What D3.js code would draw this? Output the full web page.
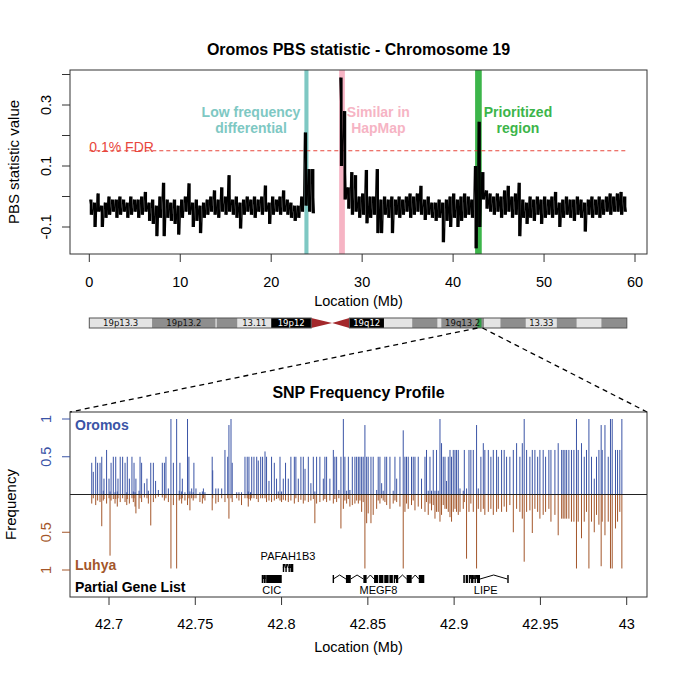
<!DOCTYPE html>
<html>
<head>
<meta charset="utf-8">
<script src="https://cdn.jsdelivr.net/npm/d3@7"></script>
<style>
  body { margin: 0; background: #fff; }
  svg { font-family: "Liberation Sans", Arial, Helvetica, sans-serif; }
</style>
</head>
<body>
<svg width="685" height="685"></svg>
<script>
// ---- Top panel: PBS statistic on chr19, point cloud summarised per 0.4 Mb bin (low / high)
var pbsPos = [
    0.2, 0.6, 1.0, 1.4, 1.8, 2.2, 2.6, 3.0, 3.4, 3.8,
    4.2, 4.6, 5.0, 5.4, 5.8, 6.2, 6.6, 7.0, 7.4, 7.8,
    8.2, 8.6, 9.0, 9.4, 9.8, 10.2, 10.6, 11.0, 11.4, 11.8,
    12.2, 12.6, 13.0, 13.4, 13.8, 14.2, 14.6, 15.0, 15.4, 15.8,
    16.2, 16.6, 17.0, 17.4, 17.8, 18.2, 18.6, 19.0, 19.4, 19.8,
    20.2, 20.6, 21.0, 21.4, 21.8, 22.2, 22.6, 23.0, 23.4, 23.8,
    24.2, 24.6,
    27.7, 28.1, 28.5, 28.9, 29.3, 29.7, 30.1, 30.5, 30.9, 31.3,
    31.7, 32.1, 32.5, 32.9, 33.3, 33.7, 34.1, 34.5, 34.9, 35.3,
    35.7, 36.1, 36.5, 36.9, 37.3, 37.7, 38.1, 38.5, 38.9, 39.3,
    39.7, 40.1, 40.5, 40.9, 41.3, 41.7, 42.1, 42.5, 42.9, 43.3,
    43.7, 44.1, 44.5, 44.9, 45.3, 45.7, 46.1, 46.5, 46.9, 47.3,
    47.7, 48.1, 48.5, 48.9, 49.3, 49.7, 50.1, 50.5, 50.9, 51.3,
    51.7, 52.1, 52.5, 52.9, 53.3, 53.7, 54.1, 54.5, 54.9, 55.3,
    55.7, 56.1, 56.5, 56.9, 57.3, 57.7, 58.1, 58.5, 58.9
];
var pbsLow = [
    -0.06, -0.10, -0.05, -0.10, -0.07, -0.06, -0.05, -0.07, -0.06, -0.05,
    -0.07, -0.06, -0.05, -0.07, -0.06, -0.05, -0.08, -0.09, -0.13, -0.07,
    -0.13, -0.07, -0.08, -0.09, -0.125, -0.07, -0.05, -0.06, -0.10, -0.08,
    -0.12, -0.07, -0.06, -0.05, -0.06, -0.07, -0.05, -0.06, -0.05, -0.06,
    -0.07, -0.105, -0.06, -0.05, -0.06, -0.07, -0.05, -0.06, -0.05, -0.09,
    -0.06, -0.05, -0.06, -0.05, -0.06, -0.07, -0.08, -0.07, -0.05, -0.03,
    -0.05, -0.055,
    0.10, -0.01, -0.04, -0.06, -0.05, -0.07, -0.06, -0.088, -0.07, -0.06,
    -0.12, -0.12, -0.06, -0.07, -0.12, -0.06, -0.07, -0.06, -0.05, -0.07,
    -0.06, -0.05, -0.06, -0.077, -0.06, -0.07, -0.08, -0.07, -0.15, -0.08,
    -0.10, -0.07, -0.10, -0.08, -0.07, -0.06, -0.07, -0.17, -0.10, -0.01,
    -0.04, -0.05, -0.06, -0.05, -0.07, -0.06, -0.05, -0.07, -0.06, -0.13,
    -0.07, -0.09, -0.07, -0.08, -0.06, -0.09, -0.07, -0.06, -0.07, -0.06,
    -0.10, -0.07, -0.06, -0.07, -0.08, -0.06, -0.07, -0.115, -0.06, -0.07,
    -0.06, -0.07, -0.06, -0.05, -0.06, -0.05, -0.05, -0.06, -0.05
];
var pbsHigh = [
    -0.01, -0.02, 0.01, -0.03, -0.02, 0.00, -0.01, -0.01, 0.00, -0.01,
    -0.02, 0.00, -0.01, -0.01, 0.00, 0.015, -0.02, -0.01, -0.03, 0.00,
    0.045, -0.01, -0.02, -0.01, -0.03, -0.01, 0.00, 0.043, -0.02, -0.01,
    -0.03, -0.02, -0.01, 0.00, 0.02, -0.01, 0.03, 0.00, 0.07, -0.01,
    0.00, -0.02, -0.01, 0.00, -0.01, 0.00, -0.01, 0.00, 0.036, -0.02,
    0.00, -0.01, 0.00, 0.02, -0.01, -0.02, -0.03, -0.03, 0.00, 0.21,
    0.09, 0.09,
    0.39, 0.28, 0.03, 0.08, 0.07, 0.00, 0.01, 0.087, 0.00, 0.00,
    0.09, -0.01, 0.00, -0.01, 0.00, -0.01, 0.00, -0.01, 0.00, 0.01,
    0.00, 0.01, 0.035, -0.01, 0.00, -0.02, -0.02, -0.01, -0.02, -0.01,
    0.00, 0.01, -0.01, 0.00, 0.01, 0.00, -0.01, 0.10, 0.245, 0.08,
    0.02, 0.01, 0.00, 0.01, 0.00, 0.02, 0.035, 0.00, 0.01, 0.045,
    -0.01, -0.02, 0.00, -0.01, 0.00, -0.01, 0.00, -0.01, 0.00, 0.015,
    -0.02, -0.01, 0.00, -0.01, -0.01, 0.00, -0.01, -0.02, -0.01, 0.00,
    -0.01, 0.00, -0.01, 0.00, 0.01, 0.00, 0.01, 0.015, 0.00
];
var pbsBin = 0.4;
var centromereGap = [24.8, 27.5];
var fdrCutoff = 0.15;

var regionLabel = [["Low frequency", "differential"], ["Similar in", "HapMap"], ["Prioritized", "region"]];
var regionStart = [23.65, 27.47, 42.42];
var regionEnd = [24.1, 28.1, 43.15];

var topXTicks = [0, 10, 20, 30, 40, 50, 60];
var topYTicks = [-0.1, 0, 0.1, 0.2, 0.3, 0.4];
var topYLabels = ["-0.1", "", "0.1", "", "0.3", ""];

// ---- Chromosome 19 ideogram (Mb)
var bandStart = [0, 6.9, 13.9, 14.0, 16.3, 20.0, 24.4, 26.7, 28.6, 32.4, 35.5, 38.3, 38.7, 43.4, 45.2, 48.0, 51.4, 53.6, 56.3];
var bandEnd = [6.9, 13.9, 14.0, 16.3, 20.0, 24.4, 26.7, 28.6, 32.4, 35.5, 38.3, 38.7, 43.4, 45.2, 48.0, 51.4, 53.6, 56.3, 59.1];
var bandStain = ["gneg", "gpos50", "gneg", "gpos50", "gneg", "gpos100", "acen", "acen", "gpos100", "gneg",
                 "gpos50", "gneg", "gpos50", "gneg", "gpos50", "gneg", "gpos50", "gneg", "gpos50"];
var bandLabel = ["19p13.3", "19p13.2", "", "", "13.11", "19p12", "", "", "19q12", "",
                 "", "", "19q13.2", "", "", "13.33", "", "", ""];
var zoomStart = 42.6774, zoomEnd = 43.0118;

// ---- Bottom panel: SNP allele frequencies
var snpPos = [
    42.6900, 42.6909, 42.6923, 42.6934, 42.6948, 42.6958, 42.6967, 42.6971, 42.6986, 42.7000,
    42.7006, 42.7012, 42.7025, 42.7035, 42.7039, 42.7048, 42.7052, 42.7065, 42.7079, 42.7093,
    42.7103, 42.7106, 42.7118, 42.7133, 42.7141, 42.7145, 42.7151, 42.7156, 42.7174, 42.7180,
    42.7189, 42.7205, 42.7220, 42.7228, 42.7242, 42.7257, 42.7270, 42.7286, 42.7309, 42.7321,
    42.7330, 42.7344, 42.7359, 42.7373, 42.7392, 42.7407, 42.7411, 42.7421, 42.7425, 42.7440,
    42.7455, 42.7463, 42.7469, 42.7479, 42.7488, 42.7492, 42.7504, 42.7527, 42.7541, 42.7547,
    42.7556, 42.7598, 42.7601, 42.7619, 42.7633, 42.7653, 42.7672, 42.7688, 42.7695, 42.7707,
    42.7714, 42.7740, 42.7753, 42.7768, 42.7788, 42.7801, 42.7807, 42.7811, 42.7820, 42.7827,
    42.7840, 42.7856, 42.7865, 42.7879, 42.7890, 42.7904,
    42.7913, 42.7927, 42.7942, 42.7958, 42.7971, 42.7981, 42.7991, 42.8000, 42.8010, 42.8023,
    42.8039, 42.8054, 42.8074, 42.8083, 42.8097, 42.8112, 42.8126, 42.8136, 42.8155, 42.8170,
    42.8184, 42.8193, 42.8203, 42.8222, 42.8242, 42.8251, 42.8261, 42.8280, 42.8300, 42.8309,
    42.8319, 42.8332, 42.8344, 42.8358, 42.8367, 42.8377, 42.8387, 42.8396, 42.8410, 42.8425,
    42.8435, 42.8445, 42.8454, 42.8464, 42.8473, 42.8483, 42.8493, 42.8502, 42.8518, 42.8531,
    42.8551, 42.8560, 42.8570, 42.8580, 42.8589, 42.8599, 42.8609, 42.8628, 42.8647, 42.8657,
    42.8667, 42.8686, 42.8705, 42.8715, 42.8724, 42.8734, 42.8753, 42.8763, 42.8773, 42.8792,
    42.8811, 42.8831, 42.8840, 42.8850, 42.8860, 42.8869, 42.8879, 42.8889, 42.8898, 42.8908,
    42.8918, 42.8927, 42.8937, 42.8947,
    42.8956, 42.8966, 42.8976, 42.8985, 42.8995, 42.9005, 42.9014, 42.9024, 42.9034, 42.9053,
    42.9059, 42.9072, 42.9086, 42.9097, 42.9111, 42.9130, 42.9140, 42.9155, 42.9169, 42.9178,
    42.9198, 42.9213, 42.9227, 42.9246, 42.9256, 42.9275, 42.9290, 42.9304, 42.9323, 42.9343,
    42.9362, 42.9381, 42.9395, 42.9406, 42.9420, 42.9439, 42.9453, 42.9468, 42.9484, 42.9497,
    42.9516, 42.9530, 42.9549, 42.9561, 42.9584, 42.9603, 42.9623, 42.9632, 42.9642, 42.9652,
    42.9665, 42.9680, 42.9694, 42.9709, 42.9719, 42.9738, 42.9754, 42.9767, 42.9781, 42.9796,
    42.9812, 42.9825, 42.9839, 42.9852, 42.9858, 42.9874, 42.9893, 42.9906, 42.9916, 42.9935,
    42.9947, 42.9960, 42.9972
];
var oromosFreq = [
    0.42, 0.30, 0.50, 0.42, 0.42, 0.50, 0.05, 0.21, 0.59, 0.21,
    0.04, 0.42, 0.50, 0.03, 0.50, 0.04, 0.21, 0.50, 0.50, 0.42,
    0.03, 0.50, 0.21, 0.50, 0.04, 0.42, 0.03, 0.21, 0.05, 0.50,
    0.42, 0.15, 0.21, 0.05, 0.42, 0.42, 0.18, 0.06, 0.42, 0.42,
    0.50, 0.08, 1.00, 0.42, 1.00, 0.05, 0.42, 0.04, 0.21, 0.03,
    1.00, 0.50, 0.04, 0.08, 0.03, 0.42, 0.08, 0.03, 0.04, 0.08,
    0.03, 0.50, 0.32, 0.08, 0.08, 0.08, 0.59, 0.50, 0.92, 1.00,
    0.42, 0.03, 0.03, 0.03, 0.50, 0.50, 0.04, 0.50, 0.03, 0.50,
    0.50, 0.50, 0.45, 0.50, 0.50, 0.57,
    0.50, 0.18, 0.50, 0.42, 0.21, 0.04, 0.50, 0.04, 0.21, 0.42,
    0.21, 0.50, 0.50, 0.50, 0.21, 0.50, 0.50, 0.34, 0.50, 0.15,
    0.50, 0.04, 0.50, 0.50, 0.21, 0.50, 0.50, 0.21, 0.59, 0.50,
    0.50, 0.06, 0.50, 1.00, 0.50, 0.05, 0.50, 0.06, 0.50, 0.50,
    0.50, 0.50, 0.50, 0.50, 0.50, 0.92, 0.50, 0.50, 0.50, 0.50,
    0.06, 0.50, 0.50, 0.15, 0.05, 0.50, 0.50, 0.50, 0.05, 0.50,
    0.21, 0.50, 0.85, 0.50, 0.50, 0.50, 0.50, 0.50, 0.50, 0.50,
    0.21, 0.50, 0.59, 0.05, 0.50, 0.05, 0.59, 0.05, 0.59, 0.05,
    1.00, 0.68, 0.50, 0.50,
    0.18, 0.50, 0.59, 0.50, 0.59, 0.59, 0.59, 0.59, 0.08, 0.05,
    0.59, 0.08, 0.59, 0.59, 0.59, 0.92, 0.08, 0.50, 0.68, 0.59,
    0.59, 0.50, 0.59, 0.59, 0.50, 0.59, 0.59, 0.50, 0.50, 0.59,
    0.68, 0.50, 0.68, 1.00, 0.59, 0.50, 0.59, 0.59, 0.50, 0.59,
    0.59, 0.50, 0.59, 0.59, 0.59, 0.68, 0.59, 0.59, 0.59, 0.59,
    0.59, 0.59, 0.59, 1.00, 0.59, 0.68, 0.50, 0.59, 1.00, 0.50,
    0.21, 0.50, 0.59, 0.92, 0.59, 0.92, 0.50, 1.00, 1.00, 0.59,
    0.59, 0.59, 1.00
];
var luhyaFreq = [
    0.12, 0.05, 0.14, 0.08, 0.10, 0.42, 0.08, 0.06, 0.12, 0.05,
    0.81, 0.08, 0.06, 0.12, 0.06, 0.16, 0.05, 0.10, 0.05, 0.10,
    0.14, 0.06, 0.12, 0.05, 0.10, 0.05, 0.16, 0.25, 0.19, 0.05,
    0.10, 0.04, 0.05, 0.12, 0.41, 0.10, 0.05, 0.03, 0.04, 0.08,
    0.05, 0.10, 0.98, 0.14, 0.98, 0.08, 0.06, 0.12, 0.05, 0.08,
    0.14, 0.05, 0.21, 0.05, 0.08, 0.05, 0.05, 0.10, 0.12, 0.05,
    0.08, 0.21, 0.05, 0.12, 0.10, 0.05, 0.10, 0.05, 0.32, 0.05,
    0.10, 0.05, 0.08, 0.14, 0.05, 0.05, 0.16, 0.06, 0.08, 0.05,
    0.05, 0.06, 0.10, 0.05, 0.05, 0.05,
    0.10, 0.08, 0.10, 0.08, 0.06, 0.05, 0.08, 0.10, 0.07, 0.08,
    0.10, 0.08, 0.12, 0.05, 0.10, 0.07, 0.12, 0.08, 0.10, 0.08,
    0.06, 0.38, 0.12, 0.10, 0.08, 0.06, 0.10, 0.08, 0.12, 0.06,
    0.10, 0.05, 0.45, 0.19, 0.08, 0.12, 0.06, 0.16, 0.14, 0.12,
    0.08, 0.12, 0.08, 0.23, 0.10, 0.98, 0.38, 0.25, 0.38, 0.27,
    0.19, 0.08, 0.12, 0.05, 0.08, 0.10, 0.14, 0.19, 0.12, 0.08,
    0.10, 0.16, 0.98, 0.23, 0.12, 0.19, 0.14, 0.08, 0.21, 0.16,
    0.19, 0.23, 0.10, 0.27, 0.12, 0.21, 0.14, 0.32, 0.23, 0.23,
    0.36, 0.27, 0.14, 0.19,
    0.19, 0.23, 0.30, 0.36, 0.23, 0.19, 0.23, 0.27, 0.23, 0.19,
    0.10, 0.85, 0.23, 0.12, 0.23, 0.98, 0.19, 0.23, 0.19, 0.27,
    0.23, 0.19, 0.27, 0.23, 0.19, 0.23, 0.16, 0.23, 0.14, 0.50,
    0.19, 0.23, 0.32, 0.89, 0.23, 0.21, 0.51, 0.19, 0.23, 0.32,
    0.27, 0.23, 0.19, 0.36, 0.27, 0.54, 0.32, 0.32, 0.32, 0.32,
    0.32, 0.36, 0.36, 0.98, 0.36, 0.58, 0.36, 0.23, 0.98, 0.36,
    0.50, 0.27, 0.40, 0.95, 0.36, 0.54, 0.36, 0.98, 0.98, 0.45,
    0.36, 0.23, 0.98
];

var bottomXTicks = [42.7, 42.75, 42.8, 42.85, 42.9, 42.95, 43];
var bottomXLabels = ["42.7", "42.75", "42.8", "42.85", "42.9", "42.95", "43"];
var freqTicks = [0.5, 1];
var freqLabels = ["0.5", "1"];

// ---- Gene models (exon start/end in Mb)
var geneName = ["CIC", "PAFAH1B3", "MEGF8", "LIPE"];
var geneRaised = [false, true, false, false];
var geneExons = [
    [[42.7885, 42.7889], [42.7896, 42.7900], [42.7906, 42.7909], [42.7914, 42.8001]],
    [[42.8007, 42.8010], [42.8022, 42.8026], [42.8040, 42.8046], [42.8052, 42.8068]],
    [[42.8296, 42.8300], [42.8373, 42.8401], [42.8474, 42.8493], [42.8536, 42.8560], [42.8565, 42.8590],
     [42.8595, 42.8620], [42.8625, 42.8645], [42.8650, 42.8657], [42.8663, 42.8676], [42.8725, 42.8754],
     [42.8795, 42.8827]],
    [[42.9053, 42.9062], [42.9067, 42.9080], [42.9085, 42.9092], [42.9098, 42.9112], [42.9118, 42.9126],
     [42.9132, 42.9150], [42.9308, 42.9314]]
];

// ---- styles
var regionColor = ["#7ec8c3", "#f6b4c4", "#3cb54a"];
var fdrColor = "#e8473d";
var oromosColor = "#3a54a6";
var luhyaColor = "#a3562a";
var stainFill = { gneg: "#e4e4e4", gpos50: "#8e8e8e", gpos100: "#000000", acen: "#a3282b" };

var svg = d3.select("svg");

// =====================================================================
// Top panel
var topBox = { left: 70, right: 647, top: 70, bottom: 254 };
var xTop = d3.scaleLinear().domain([0, 60]).range([89.3, 635]);
var yTop = d3.scaleLinear().domain([-0.1, 0.3]).range([227, 105]);

var topG = svg.append("g");

// highlighted regions
regionStart.forEach(function (s, i) {
    topG.append("rect")
        .attr("x", xTop(s))
        .attr("y", topBox.top)
        .attr("width", xTop(regionEnd[i]) - xTop(s))
        .attr("height", topBox.bottom - topBox.top)
        .attr("fill", regionColor[i]);
});

// FDR threshold
topG.append("line")
    .attr("x1", xTop(0)).attr("x2", xTop(d3.max(pbsPos) + pbsBin / 2))
    .attr("y1", yTop(fdrCutoff)).attr("y2", yTop(fdrCutoff))
    .attr("stroke", fdrColor).attr("stroke-width", 1.1)
    .attr("stroke-dasharray", "4,3");

// PBS point cloud: one column per bin (low..high), joined by a thin zig-zag
// so neighbouring columns blend into a dense scatter
var colHalf = 0.15;
topG.selectAll("rect.pbs")
    .data(pbsPos)
    .enter()
    .append("rect")
    .attr("class", "pbs")
    .attr("x", function (d) { return xTop(d - colHalf); })
    .attr("width", function (d) { return xTop(d + colHalf) - xTop(d - colHalf); })
    .attr("y", function (d, i) { return yTop(pbsHigh[i]); })
    .attr("height", function (d, i) { return Math.max(1.5, yTop(pbsLow[i]) - yTop(pbsHigh[i])); })
    .attr("fill", "#000");

var zig = d3.line()
    .x(function (d) { return xTop(d.x); })
    .y(function (d) { return yTop(d.v); });
[pbsPos.filter(function (p) { return p < centromereGap[0]; }),
 pbsPos.filter(function (p) { return p > centromereGap[1]; })].forEach(function (arm) {
    var pts = [];
    arm.forEach(function (p) {
        var i = pbsPos.indexOf(p);
        pts.push({ x: p - colHalf, v: pbsHigh[i] });
        pts.push({ x: p + colHalf, v: pbsLow[i] });
    });
    topG.append("path")
        .datum(pts)
        .attr("d", zig)
        .attr("fill", "none")
        .attr("stroke", "#000")
        .attr("stroke-width", 1.2)
        .attr("stroke-linejoin", "bevel");
});

topG.append("rect")
    .attr("x", topBox.left).attr("y", topBox.top)
    .attr("width", topBox.right - topBox.left).attr("height", topBox.bottom - topBox.top)
    .attr("fill", "none").attr("stroke", "#333").attr("stroke-width", 1);

// region labels
regionLabel.forEach(function (lines, i) {
    var g = topG.append("g").attr("fill", regionColor[i])
        .attr("font-weight", "bold").attr("font-size", 14).attr("text-anchor", "middle");
    var texts = lines.map(function (t, k) {
        return g.append("text").attr("y", 116.7 + k * 16.7).text(t);
    });
    var w = d3.max(texts, function (t) { return t.node().getComputedTextLength(); });
    var cx = i === 0 ? xTop(regionStart[i]) - 4 - w / 2 : xTop(regionEnd[i]) + 2 + w / 2;
    texts.forEach(function (t) { t.attr("x", cx); });
});

topG.append("text")
    .attr("x", xTop(0)).attr("y", yTop(fdrCutoff) + 1)
    .attr("fill", fdrColor).attr("font-size", 14)
    .text("0.1% FDR");

// axes
topXTicks.forEach(function (t) {
    topG.append("line").attr("x1", xTop(t)).attr("x2", xTop(t))
        .attr("y1", topBox.bottom).attr("y2", topBox.bottom + 8).attr("stroke", "#333");
    topG.append("text").attr("x", xTop(t)).attr("y", 287)
        .attr("text-anchor", "middle").attr("font-size", 14.5).text(t);
});
topYTicks.forEach(function (t, i) {
    topG.append("line").attr("x1", topBox.left - 8).attr("x2", topBox.left)
        .attr("y1", yTop(t)).attr("y2", yTop(t)).attr("stroke", "#333");
    if (topYLabels[i]) {
        topG.append("text")
            .attr("transform", "translate(50.5," + yTop(t) + ") rotate(-90)")
            .attr("text-anchor", "middle").attr("font-size", 14.5).text(topYLabels[i]);
    }
});
topG.append("text")
    .attr("x", (topBox.left + topBox.right) / 2).attr("y", 55)
    .attr("text-anchor", "middle").attr("font-weight", "bold").attr("font-size", 16)
    .text("Oromos PBS statistic - Chromosome 19");
topG.append("text")
    .attr("x", (topBox.left + topBox.right) / 2).attr("y", 306)
    .attr("text-anchor", "middle").attr("font-size", 14.5)
    .text("Location (Mb)");
topG.append("text")
    .attr("transform", "translate(19," + (topBox.top + topBox.bottom) / 2 + ") rotate(-90)")
    .attr("text-anchor", "middle").attr("font-size", 15)
    .text("PBS statistic value");

// =====================================================================
// Ideogram
var ideoTop = 318, ideoBottom = 328, ideoMid = (ideoTop + ideoBottom) / 2;
var ideoG = svg.append("g");

bandStart.forEach(function (s, i) {
    var e = bandEnd[i];
    if (bandStain[i] === "acen") {
        // centromere drawn as two triangles pinching at the junction
        var pts = s < 26 ?
            [[xTop(s), ideoTop], [xTop(e), ideoMid], [xTop(s), ideoBottom]] :
            [[xTop(s), ideoMid], [xTop(e), ideoTop], [xTop(e), ideoBottom]];
        ideoG.append("polygon").attr("points", pts.join(" ")).attr("fill", stainFill.acen);
    } else {
        ideoG.append("rect")
            .attr("x", xTop(s)).attr("y", ideoTop)
            .attr("width", xTop(e) - xTop(s)).attr("height", ideoBottom - ideoTop)
            .attr("fill", stainFill[bandStain[i]]);
    }
});

// zoomed region marker
ideoG.append("rect")
    .attr("x", xTop(zoomStart)).attr("y", ideoTop)
    .attr("width", Math.max(4, xTop(zoomEnd) - xTop(zoomStart))).attr("height", ideoBottom - ideoTop)
    .attr("fill", "#2e9e44");

bandStart.forEach(function (s, i) {
    if (!bandLabel[i]) return;
    ideoG.append("text")
        .attr("x", (xTop(s) + xTop(bandEnd[i])) / 2).attr("y", ideoBottom - 1.8)
        .attr("text-anchor", "middle")
        .attr("font-family", "'DejaVu Sans', sans-serif").attr("font-size", 8.5)
        .attr("fill", bandStain[i] === "gpos100" ? "#fff" : "#111")
        .text(bandLabel[i]);
});

// arm outlines
[[0, 24.4], [28.6, 59.1]].forEach(function (arm) {
    ideoG.append("rect")
        .attr("x", xTop(arm[0])).attr("y", ideoTop)
        .attr("width", xTop(arm[1]) - xTop(arm[0])).attr("height", ideoBottom - ideoTop)
        .attr("fill", "none").attr("stroke", "#555").attr("stroke-width", 1);
});

// =====================================================================
// Bottom panel
var botBox = { left: 70, right: 647, top: 412, bottom: 597 };
var xBot = d3.scaleLinear().domain([42.7, 43]).range([109, 626.7]);
var yBot = d3.scaleLinear().domain([-1, 1]).range([570, 419]);

// zoom connectors
svg.append("line")
    .attr("x1", xTop(zoomStart)).attr("y1", ideoBottom)
    .attr("x2", botBox.left).attr("y2", botBox.top)
    .attr("stroke", "#000").attr("stroke-width", 1.3).attr("stroke-dasharray", "5,4");
svg.append("line")
    .attr("x1", xTop(zoomEnd) + 2).attr("y1", ideoBottom)
    .attr("x2", botBox.right).attr("y2", botBox.top)
    .attr("stroke", "#000").attr("stroke-width", 1.3).attr("stroke-dasharray", "5,4");

var botG = svg.append("g");

botG.selectAll("line.oro")
    .data(snpPos)
    .enter()
    .append("line")
    .attr("class", "oro")
    .attr("x1", function (d) { return xBot(d); })
    .attr("x2", function (d) { return xBot(d); })
    .attr("y1", yBot(0))
    .attr("y2", function (d, i) { return yBot(oromosFreq[i]); })
    .attr("stroke", oromosColor).attr("stroke-width", 1);

botG.selectAll("line.luh")
    .data(snpPos)
    .enter()
    .append("line")
    .attr("class", "luh")
    .attr("x1", function (d) { return xBot(d); })
    .attr("x2", function (d) { return xBot(d); })
    .attr("y1", yBot(0))
    .attr("y2", function (d, i) { return yBot(-luhyaFreq[i]); })
    .attr("stroke", luhyaColor).attr("stroke-width", 1);

botG.append("line")
    .attr("x1", botBox.left).attr("x2", botBox.right)
    .attr("y1", yBot(0)).attr("y2", yBot(0))
    .attr("stroke", "#222").attr("stroke-width", 1);

// genes
geneName.forEach(function (name, i) {
    var exons = geneExons[i];
    var yc = geneRaised[i] ? 568 : 579;
    var g = botG.append("g");
    for (var k = 0; k < exons.length - 1; k++) {
        var a = xBot(exons[k][1]), b = xBot(exons[k + 1][0]);
        if (b - a < 1) continue;
        g.append("polyline")
            .attr("points", [[a, yc], [(a + b) / 2, yc - 4], [b, yc]].join(" "))
            .attr("fill", "none").attr("stroke", "#000").attr("stroke-width", 1);
    }
    exons.forEach(function (ex) {
        var x0 = xBot(ex[0]), w = Math.max(1.4, xBot(ex[1]) - x0);
        g.append("rect").attr("x", x0).attr("y", yc - 4)
            .attr("width", w).attr("height", 8).attr("fill", "#000");
    });
    var cx = (xBot(exons[0][0]) + xBot(exons[exons.length - 1][1])) / 2;
    g.append("text")
        .attr("x", cx).attr("y", geneRaised[i] ? 560 : 594)
        .attr("text-anchor", "middle").attr("font-size", 11)
        .text(name);
});

botG.append("rect")
    .attr("x", botBox.left).attr("y", botBox.top)
    .attr("width", botBox.right - botBox.left).attr("height", botBox.bottom - botBox.top)
    .attr("fill", "none").attr("stroke", "#333").attr("stroke-width", 1);

// panel labels
botG.append("text").attr("x", 75).attr("y", 430)
    .attr("fill", oromosColor).attr("font-weight", "bold").attr("font-size", 14).text("Oromos");
botG.append("text").attr("x", 75).attr("y", 570)
    .attr("fill", luhyaColor).attr("font-weight", "bold").attr("font-size", 14).text("Luhya");
botG.append("text").attr("x", 75).attr("y", 591.5)
    .attr("fill", "#000").attr("font-weight", "bold").attr("font-size", 14).text("Partial Gene List");

// axes
bottomXTicks.forEach(function (t, i) {
    botG.append("line").attr("x1", xBot(t)).attr("x2", xBot(t))
        .attr("y1", botBox.bottom).attr("y2", botBox.bottom + 8).attr("stroke", "#333");
    botG.append("text").attr("x", xBot(t)).attr("y", 628.5)
        .attr("text-anchor", "middle").attr("font-size", 14.5).text(bottomXLabels[i]);
});
[[1, oromosColor], [-1, luhyaColor]].forEach(function (side) {
    freqTicks.forEach(function (t, i) {
        var y = yBot(side[0] * t);
        botG.append("line").attr("x1", botBox.left - 8).attr("x2", botBox.left)
            .attr("y1", y).attr("y2", y).attr("stroke", side[1]);
        botG.append("text")
            .attr("transform", "translate(50.5," + y + ") rotate(-90)")
            .attr("text-anchor", "middle").attr("font-size", 14.5)
            .attr("fill", side[1]).text(freqLabels[i]);
    });
});
botG.append("text")
    .attr("x", (botBox.left + botBox.right) / 2).attr("y", 398)
    .attr("text-anchor", "middle").attr("font-weight", "bold").attr("font-size", 16)
    .text("SNP Frequency Profile");
botG.append("text")
    .attr("x", (botBox.left + botBox.right) / 2).attr("y", 652)
    .attr("text-anchor", "middle").attr("font-size", 14.5)
    .text("Location (Mb)");
botG.append("text")
    .attr("transform", "translate(16," + (botBox.top + botBox.bottom) / 2 + ") rotate(-90)")
    .attr("text-anchor", "middle").attr("font-size", 15)
    .text("Frequency");
</script>
</body>
</html>
